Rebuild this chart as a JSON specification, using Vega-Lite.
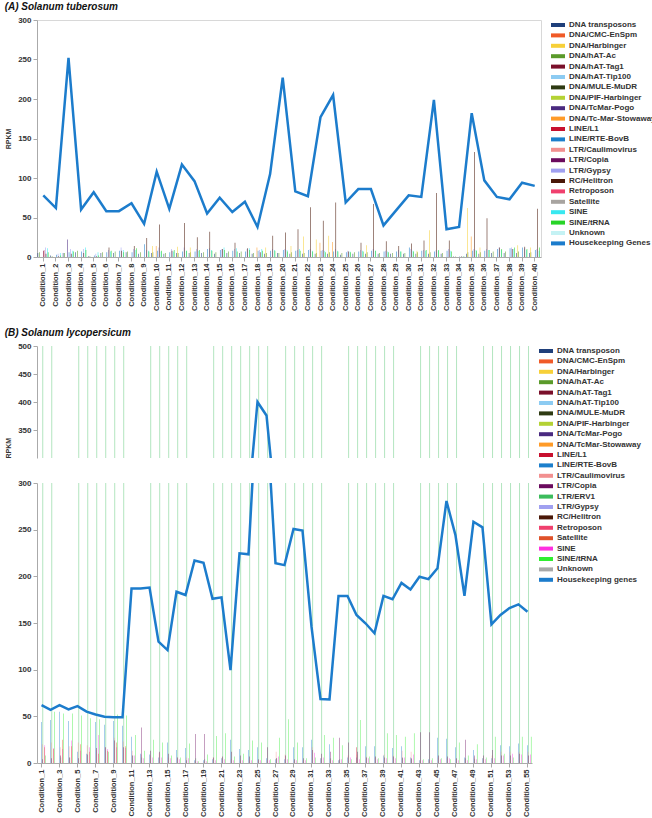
{
"$schema":"https://vega.github.io/schema/vega-lite/v6.json",
"padding":{"left":4,"top":1,"right":0,"bottom":0},
"config":{"font":"Liberation Sans","axis":{"labelFont":"Liberation Sans","labelFontWeight":"bold","labelFontSize":8,"labelColor":"#333","labelOverlap":false,"titleFont":"Liberation Sans","titleFontSize":7,"titleFontWeight":"bold","titleColor":"#333","domainColor":"#aaa","tickColor":"#aaa","tickSize":4,"grid":false},"axisX":{"labelFontSize":7.5},"view":{"stroke":null},"title":{"font":"Liberation Sans","fontSize":10,"fontWeight":"bold","fontStyle":"italic","color":"#111","anchor":"start","frame":"bounds"}},
"datasets":{
"hkA":[{"c":1,"v":78},{"c":2,"v":62},{"c":3,"v":252},{"c":4,"v":60},{"c":5,"v":82},{"c":6,"v":58},{"c":7,"v":58},{"c":8,"v":68},{"c":9,"v":42},{"c":10,"v":108},{"c":11,"v":61},{"c":12,"v":117},{"c":13,"v":96},{"c":14,"v":55},{"c":15,"v":75},{"c":16,"v":57},{"c":17,"v":70},{"c":18,"v":38},{"c":19,"v":105},{"c":20,"v":227},{"c":21,"v":83},{"c":22,"v":77},{"c":23,"v":177},{"c":24,"v":205},{"c":25,"v":69},{"c":26,"v":86},{"c":27,"v":86},{"c":28,"v":40},{"c":29,"v":59},{"c":30,"v":78},{"c":31,"v":76},{"c":32,"v":199},{"c":33,"v":35},{"c":34,"v":38},{"c":35,"v":182},{"c":36,"v":97},{"c":37,"v":76},{"c":38,"v":73},{"c":39,"v":94},{"c":40,"v":90}],
"hkB":[{"c":1,"v":62},{"c":2,"v":57},{"c":3,"v":62},{"c":4,"v":57.5},{"c":5,"v":61},{"c":6,"v":55},{"c":7,"v":52},{"c":8,"v":49.6},{"c":9,"v":49},{"c":10,"v":49},{"c":11,"v":187},{"c":12,"v":187},{"c":13,"v":188},{"c":14,"v":130},{"c":15,"v":121},{"c":16,"v":183.5},{"c":17,"v":180},{"c":18,"v":217},{"c":19,"v":214.5},{"c":20,"v":176},{"c":21,"v":177.5},{"c":22,"v":99.6},{"c":23,"v":224.7},{"c":24,"v":223.6},{"c":25,"v":400},{"c":26,"v":376},{"c":27,"v":214},{"c":28,"v":212},{"c":29,"v":250.7},{"c":30,"v":249},{"c":31,"v":146},{"c":32,"v":68.6},{"c":33,"v":68},{"c":34,"v":179},{"c":35,"v":179},{"c":36,"v":158.6},{"c":37,"v":149.7},{"c":38,"v":139},{"c":39,"v":179},{"c":40,"v":175.4},{"c":41,"v":193},{"c":42,"v":186},{"c":43,"v":199.6},{"c":44,"v":197},{"c":45,"v":208.6},{"c":46,"v":280.7},{"c":47,"v":244},{"c":48,"v":179},{"c":49,"v":258.5},{"c":50,"v":252.5},{"c":51,"v":148.6},{"c":52,"v":158.6},{"c":53,"v":166},{"c":54,"v":170},{"c":55,"v":162}],
"teA":[
{"c":1,"t":"DNA transposons","v":5},{"c":1,"t":"DNA/hAT-Ac","v":6},{"c":1,"t":"LINE/RTE-BovB","v":8},{"c":1,"t":"LTR/Gypsy","v":12},{"c":1,"t":"RC/Helitron","v":4},{"c":1,"t":"SINE","v":11},{"c":1,"t":"SINE/tRNA","v":6},{"c":1,"t":"LTR/Caulimovirus","v":9},{"c":1,"t":"LINE/L1","v":8},
{"c":2,"t":"DNA transposons","v":2},{"c":2,"t":"DNA/hAT-Ac","v":1},{"c":2,"t":"LINE/RTE-BovB","v":3},{"c":2,"t":"LTR/Gypsy","v":4},{"c":2,"t":"RC/Helitron","v":1},{"c":2,"t":"SINE","v":5},{"c":2,"t":"SINE/tRNA","v":2},
{"c":3,"t":"DNA transposons","v":5},{"c":3,"t":"DNA/hAT-Ac","v":5},{"c":3,"t":"LINE/RTE-BovB","v":6},{"c":3,"t":"LTR/Gypsy","v":10},{"c":3,"t":"RC/Helitron","v":4},{"c":3,"t":"SINE","v":8},{"c":3,"t":"SINE/tRNA","v":7},{"c":3,"t":"DNA/TcMar-Pogo","v":22},
{"c":4,"t":"DNA transposons","v":6},{"c":4,"t":"DNA/hAT-Ac","v":8},{"c":4,"t":"LINE/RTE-BovB","v":7},{"c":4,"t":"LTR/Gypsy","v":10},{"c":4,"t":"RC/Helitron","v":5},{"c":4,"t":"SINE","v":12},{"c":4,"t":"SINE/tRNA","v":9},
{"c":5,"t":"DNA transposons","v":1},{"c":5,"t":"DNA/hAT-Ac","v":1},{"c":5,"t":"LINE/RTE-BovB","v":2},{"c":5,"t":"LTR/Gypsy","v":4},{"c":5,"t":"RC/Helitron","v":1},{"c":5,"t":"SINE","v":6},{"c":5,"t":"SINE/tRNA","v":2},
{"c":6,"t":"DNA transposons","v":5},{"c":6,"t":"DNA/hAT-Ac","v":6},{"c":6,"t":"LINE/RTE-BovB","v":6},{"c":6,"t":"LTR/Gypsy","v":9},{"c":6,"t":"RC/Helitron","v":12},{"c":6,"t":"SINE","v":7},{"c":6,"t":"SINE/tRNA","v":8},
{"c":7,"t":"DNA transposons","v":5},{"c":7,"t":"DNA/hAT-Ac","v":7},{"c":7,"t":"LINE/RTE-BovB","v":8},{"c":7,"t":"LTR/Gypsy","v":12},{"c":7,"t":"RC/Helitron","v":8},{"c":7,"t":"SINE","v":9},{"c":7,"t":"SINE/tRNA","v":6},
{"c":8,"t":"DNA transposons","v":6},{"c":8,"t":"DNA/hAT-Ac","v":7},{"c":8,"t":"LINE/RTE-BovB","v":6},{"c":8,"t":"LTR/Gypsy","v":10},{"c":8,"t":"RC/Helitron","v":14},{"c":8,"t":"SINE","v":9},{"c":8,"t":"SINE/tRNA","v":11},
{"c":9,"t":"DNA transposons","v":4},{"c":9,"t":"DNA/hAT-Ac","v":6},{"c":9,"t":"LINE/RTE-BovB","v":16},{"c":9,"t":"LTR/Gypsy","v":9},{"c":9,"t":"RC/Helitron","v":24},{"c":9,"t":"SINE","v":8},{"c":9,"t":"SINE/tRNA","v":7},
{"c":10,"t":"DNA transposons","v":5},{"c":10,"t":"DNA/hAT-Ac","v":6},{"c":10,"t":"LINE/RTE-BovB","v":8},{"c":10,"t":"LTR/Gypsy","v":12},{"c":10,"t":"RC/Helitron","v":41},{"c":10,"t":"SINE","v":7},{"c":10,"t":"SINE/tRNA","v":8},{"c":10,"t":"DNA/Tc-Mar-Stowaway","v":14},{"c":10,"t":"DNA/Harbinger","v":14},
{"c":11,"t":"DNA transposons","v":4},{"c":11,"t":"DNA/hAT-Ac","v":5},{"c":11,"t":"LINE/RTE-BovB","v":6},{"c":11,"t":"LTR/Gypsy","v":10},{"c":11,"t":"RC/Helitron","v":8},{"c":11,"t":"SINE","v":7},{"c":11,"t":"SINE/tRNA","v":9},
{"c":12,"t":"DNA transposons","v":5},{"c":12,"t":"DNA/hAT-Ac","v":5},{"c":12,"t":"LINE/RTE-BovB","v":7},{"c":12,"t":"LTR/Gypsy","v":12},{"c":12,"t":"RC/Helitron","v":43},{"c":12,"t":"SINE","v":8},{"c":12,"t":"SINE/tRNA","v":8},{"c":12,"t":"DNA/Harbinger","v":13},
{"c":13,"t":"DNA transposons","v":5},{"c":13,"t":"DNA/hAT-Ac","v":6},{"c":13,"t":"LINE/RTE-BovB","v":7},{"c":13,"t":"LTR/Gypsy","v":10},{"c":13,"t":"RC/Helitron","v":25},{"c":13,"t":"SINE","v":8},{"c":13,"t":"SINE/tRNA","v":9},{"c":13,"t":"DNA/Harbinger","v":12},
{"c":14,"t":"DNA transposons","v":5},{"c":14,"t":"DNA/hAT-Ac","v":6},{"c":14,"t":"LINE/RTE-BovB","v":10},{"c":14,"t":"LTR/Gypsy","v":11},{"c":14,"t":"RC/Helitron","v":32},{"c":14,"t":"SINE","v":9},{"c":14,"t":"SINE/tRNA","v":8},
{"c":15,"t":"DNA transposons","v":4},{"c":15,"t":"DNA/hAT-Ac","v":6},{"c":15,"t":"LINE/RTE-BovB","v":9},{"c":15,"t":"LTR/Gypsy","v":10},{"c":15,"t":"RC/Helitron","v":10},{"c":15,"t":"SINE","v":12},{"c":15,"t":"SINE/tRNA","v":9},
{"c":16,"t":"DNA transposons","v":5},{"c":16,"t":"DNA/hAT-Ac","v":7},{"c":16,"t":"LINE/RTE-BovB","v":8},{"c":16,"t":"LTR/Gypsy","v":10},{"c":16,"t":"RC/Helitron","v":18},{"c":16,"t":"SINE","v":11},{"c":16,"t":"SINE/tRNA","v":7},
{"c":17,"t":"DNA transposons","v":5},{"c":17,"t":"DNA/hAT-Ac","v":7},{"c":17,"t":"LINE/RTE-BovB","v":7},{"c":17,"t":"LTR/Gypsy","v":10},{"c":17,"t":"RC/Helitron","v":11},{"c":17,"t":"SINE","v":11},{"c":17,"t":"SINE/tRNA","v":9},
{"c":18,"t":"DNA transposons","v":4},{"c":18,"t":"DNA/hAT-Ac","v":5},{"c":18,"t":"LINE/RTE-BovB","v":8},{"c":18,"t":"LTR/Gypsy","v":9},{"c":18,"t":"RC/Helitron","v":6},{"c":18,"t":"SINE","v":10},{"c":18,"t":"SINE/tRNA","v":8},{"c":18,"t":"DNA/Tc-Mar-Stowaway","v":12},
{"c":19,"t":"DNA transposons","v":4},{"c":19,"t":"DNA/hAT-Ac","v":5},{"c":19,"t":"LINE/RTE-BovB","v":8},{"c":19,"t":"LTR/Gypsy","v":10},{"c":19,"t":"RC/Helitron","v":27},{"c":19,"t":"SINE","v":9},{"c":19,"t":"SINE/tRNA","v":8},{"c":19,"t":"DNA/Harbinger","v":12},
{"c":20,"t":"DNA transposons","v":5},{"c":20,"t":"DNA/hAT-Ac","v":5},{"c":20,"t":"LINE/RTE-BovB","v":9},{"c":20,"t":"LTR/Gypsy","v":10},{"c":20,"t":"RC/Helitron","v":31},{"c":20,"t":"SINE","v":9},{"c":20,"t":"SINE/tRNA","v":7},
{"c":21,"t":"DNA transposons","v":4},{"c":21,"t":"DNA/hAT-Ac","v":6},{"c":21,"t":"LINE/RTE-BovB","v":8},{"c":21,"t":"LTR/Gypsy","v":9},{"c":21,"t":"RC/Helitron","v":35},{"c":21,"t":"SINE","v":10},{"c":21,"t":"SINE/tRNA","v":8},{"c":21,"t":"DNA/Harbinger","v":14},
{"c":22,"t":"DNA transposons","v":4},{"c":22,"t":"DNA/hAT-Ac","v":5},{"c":22,"t":"LINE/RTE-BovB","v":9},{"c":22,"t":"LTR/Gypsy","v":10},{"c":22,"t":"RC/Helitron","v":63},{"c":22,"t":"SINE","v":8},{"c":22,"t":"SINE/tRNA","v":7},{"c":22,"t":"DNA/Harbinger","v":26},
{"c":23,"t":"DNA transposons","v":4},{"c":23,"t":"DNA/hAT-Ac","v":5},{"c":23,"t":"LINE/RTE-BovB","v":8},{"c":23,"t":"LTR/Gypsy","v":9},{"c":23,"t":"RC/Helitron","v":46},{"c":23,"t":"SINE","v":8},{"c":23,"t":"SINE/tRNA","v":6},{"c":23,"t":"DNA/Harbinger","v":22},{"c":23,"t":"DNA/Tc-Mar-Stowaway","v":18},
{"c":24,"t":"DNA transposons","v":4},{"c":24,"t":"DNA/hAT-Ac","v":6},{"c":24,"t":"LINE/RTE-BovB","v":7},{"c":24,"t":"LTR/Gypsy","v":10},{"c":24,"t":"RC/Helitron","v":69},{"c":24,"t":"SINE","v":8},{"c":24,"t":"SINE/tRNA","v":7},{"c":24,"t":"DNA/Harbinger","v":27},{"c":24,"t":"DNA/Tc-Mar-Stowaway","v":19},
{"c":25,"t":"DNA transposons","v":3},{"c":25,"t":"DNA/hAT-Ac","v":5},{"c":25,"t":"LINE/RTE-BovB","v":6},{"c":25,"t":"LTR/Gypsy","v":8},{"c":25,"t":"RC/Helitron","v":7},{"c":25,"t":"SINE","v":7},{"c":25,"t":"SINE/tRNA","v":6},
{"c":26,"t":"DNA transposons","v":4},{"c":26,"t":"DNA/hAT-Ac","v":6},{"c":26,"t":"LINE/RTE-BovB","v":7},{"c":26,"t":"LTR/Gypsy","v":9},{"c":26,"t":"RC/Helitron","v":18},{"c":26,"t":"SINE","v":8},{"c":26,"t":"SINE/tRNA","v":7},
{"c":27,"t":"DNA transposons","v":4},{"c":27,"t":"DNA/hAT-Ac","v":6},{"c":27,"t":"LINE/RTE-BovB","v":8},{"c":27,"t":"LTR/Gypsy","v":10},{"c":27,"t":"RC/Helitron","v":67},{"c":27,"t":"SINE","v":8},{"c":27,"t":"SINE/tRNA","v":8},{"c":27,"t":"DNA/Harbinger","v":15},
{"c":28,"t":"DNA transposons","v":4},{"c":28,"t":"DNA/hAT-Ac","v":5},{"c":28,"t":"LINE/RTE-BovB","v":7},{"c":28,"t":"LTR/Gypsy","v":8},{"c":28,"t":"RC/Helitron","v":20},{"c":28,"t":"SINE","v":7},{"c":28,"t":"SINE/tRNA","v":6},
{"c":29,"t":"DNA transposons","v":4},{"c":29,"t":"DNA/hAT-Ac","v":5},{"c":29,"t":"LINE/RTE-BovB","v":7},{"c":29,"t":"LTR/Gypsy","v":9},{"c":29,"t":"RC/Helitron","v":14},{"c":29,"t":"SINE","v":7},{"c":29,"t":"SINE/tRNA","v":7},
{"c":30,"t":"DNA transposons","v":4},{"c":30,"t":"DNA/hAT-Ac","v":5},{"c":30,"t":"LINE/RTE-BovB","v":12},{"c":30,"t":"LTR/Gypsy","v":10},{"c":30,"t":"RC/Helitron","v":17},{"c":30,"t":"SINE","v":8},{"c":30,"t":"SINE/tRNA","v":7},
{"c":31,"t":"DNA transposons","v":4},{"c":31,"t":"DNA/hAT-Ac","v":6},{"c":31,"t":"LINE/RTE-BovB","v":8},{"c":31,"t":"LTR/Gypsy","v":9},{"c":31,"t":"RC/Helitron","v":21},{"c":31,"t":"SINE","v":8},{"c":31,"t":"SINE/tRNA","v":9},{"c":31,"t":"DNA/Harbinger","v":8},
{"c":32,"t":"DNA transposons","v":4},{"c":32,"t":"DNA/hAT-Ac","v":6},{"c":32,"t":"LINE/RTE-BovB","v":7},{"c":32,"t":"LTR/Gypsy","v":9},{"c":32,"t":"RC/Helitron","v":81},{"c":32,"t":"SINE","v":8},{"c":32,"t":"SINE/tRNA","v":9},{"c":32,"t":"DNA/Harbinger","v":34},
{"c":33,"t":"DNA transposons","v":4},{"c":33,"t":"DNA/hAT-Ac","v":5},{"c":33,"t":"LINE/RTE-BovB","v":8},{"c":33,"t":"LTR/Gypsy","v":10},{"c":33,"t":"RC/Helitron","v":21},{"c":33,"t":"SINE","v":8},{"c":33,"t":"SINE/tRNA","v":7},
{"c":34,"t":"DNA transposons","v":0.5},{"c":34,"t":"DNA/hAT-Ac","v":0.5},{"c":34,"t":"LINE/RTE-BovB","v":0.5},{"c":34,"t":"LTR/Gypsy","v":0.5},{"c":34,"t":"RC/Helitron","v":0.5},{"c":34,"t":"SINE","v":0.5},{"c":34,"t":"SINE/tRNA","v":0.5},
{"c":35,"t":"DNA transposons","v":4},{"c":35,"t":"DNA/hAT-Ac","v":6},{"c":35,"t":"LINE/RTE-BovB","v":8},{"c":35,"t":"LTR/Gypsy","v":10},{"c":35,"t":"RC/Helitron","v":133},{"c":35,"t":"SINE","v":9},{"c":35,"t":"SINE/tRNA","v":8},{"c":35,"t":"DNA/Harbinger","v":62},{"c":35,"t":"DNA/Tc-Mar-Stowaway","v":26},
{"c":36,"t":"DNA transposons","v":4},{"c":36,"t":"DNA/hAT-Ac","v":6},{"c":36,"t":"LINE/RTE-BovB","v":8},{"c":36,"t":"LTR/Gypsy","v":10},{"c":36,"t":"RC/Helitron","v":49},{"c":36,"t":"SINE","v":9},{"c":36,"t":"SINE/tRNA","v":9},{"c":36,"t":"DNA/Harbinger","v":12},
{"c":37,"t":"DNA transposons","v":5},{"c":37,"t":"DNA/hAT-Ac","v":7},{"c":37,"t":"LINE/RTE-BovB","v":10},{"c":37,"t":"LTR/Gypsy","v":12},{"c":37,"t":"RC/Helitron","v":12},{"c":37,"t":"SINE","v":9},{"c":37,"t":"SINE/tRNA","v":10},
{"c":38,"t":"DNA transposons","v":5},{"c":38,"t":"DNA/hAT-Ac","v":7},{"c":38,"t":"LINE/RTE-BovB","v":11},{"c":38,"t":"LTR/Gypsy","v":12},{"c":38,"t":"RC/Helitron","v":10},{"c":38,"t":"SINE","v":10},{"c":38,"t":"SINE/tRNA","v":12},
{"c":39,"t":"DNA transposons","v":5},{"c":39,"t":"DNA/hAT-Ac","v":7},{"c":39,"t":"LINE/RTE-BovB","v":12},{"c":39,"t":"LTR/Gypsy","v":11},{"c":39,"t":"RC/Helitron","v":13},{"c":39,"t":"SINE","v":9},{"c":39,"t":"SINE/tRNA","v":10},{"c":39,"t":"DNA/Harbinger","v":15},
{"c":40,"t":"DNA transposons","v":5},{"c":40,"t":"DNA/hAT-Ac","v":6},{"c":40,"t":"LINE/RTE-BovB","v":9},{"c":40,"t":"LTR/Gypsy","v":10},{"c":40,"t":"RC/Helitron","v":61},{"c":40,"t":"SINE","v":8},{"c":40,"t":"SINE/tRNA","v":12},{"c":40,"t":"DNA/Harbinger","v":12}
],
"teB":[
{"c":1,"t":"LTR/ERV1","v":600},{"c":1,"t":"LINE/RTE-BovB","v":44},{"c":1,"t":"SINE/tRNA","v":8},{"c":1,"t":"LTR/Caulimovirus","v":20},{"c":1,"t":"SINE","v":19},{"c":1,"t":"LTR/Copia","v":4},{"c":1,"t":"Satellite","v":17},
{"c":2,"t":"LTR/ERV1","v":600},{"c":2,"t":"LINE/RTE-BovB","v":46},{"c":2,"t":"SINE/tRNA","v":55},{"c":2,"t":"LTR/Caulimovirus","v":22},{"c":2,"t":"SINE","v":16},{"c":2,"t":"LTR/Copia","v":5},{"c":2,"t":"Satellite","v":15},
{"c":3,"t":"LTR/ERV1","v":6},{"c":3,"t":"LINE/RTE-BovB","v":55},{"c":3,"t":"SINE/tRNA","v":53},{"c":3,"t":"LTR/Caulimovirus","v":17},{"c":3,"t":"SINE","v":15},{"c":3,"t":"LTR/Copia","v":8},{"c":3,"t":"Satellite","v":25},
{"c":4,"t":"LTR/ERV1","v":6},{"c":4,"t":"LINE/RTE-BovB","v":45},{"c":4,"t":"SINE/tRNA","v":53},{"c":4,"t":"LTR/Caulimovirus","v":18},{"c":4,"t":"SINE","v":24},{"c":4,"t":"LTR/Copia","v":6},{"c":4,"t":"Satellite","v":18},
{"c":5,"t":"LTR/ERV1","v":600},{"c":5,"t":"LINE/RTE-BovB","v":12},{"c":5,"t":"SINE/tRNA","v":51},{"c":5,"t":"LTR/Caulimovirus","v":22},{"c":5,"t":"SINE","v":13},{"c":5,"t":"LTR/Copia","v":5},{"c":5,"t":"Satellite","v":20},
{"c":6,"t":"LTR/ERV1","v":600},{"c":6,"t":"LINE/RTE-BovB","v":10},{"c":6,"t":"SINE/tRNA","v":48},{"c":6,"t":"LTR/Caulimovirus","v":19},{"c":6,"t":"SINE","v":17},{"c":6,"t":"LTR/Copia","v":9},{"c":6,"t":"Satellite","v":12},
{"c":7,"t":"LTR/ERV1","v":600},{"c":7,"t":"LINE/RTE-BovB","v":44},{"c":7,"t":"SINE/tRNA","v":47},{"c":7,"t":"LTR/Caulimovirus","v":14},{"c":7,"t":"SINE","v":30},{"c":7,"t":"LTR/Copia","v":16},{"c":7,"t":"Satellite","v":10},
{"c":8,"t":"LTR/ERV1","v":600},{"c":8,"t":"LINE/RTE-BovB","v":41},{"c":8,"t":"SINE/tRNA","v":12},{"c":8,"t":"LTR/Caulimovirus","v":17},{"c":8,"t":"SINE","v":15},{"c":8,"t":"LTR/Copia","v":17},{"c":8,"t":"Satellite","v":13},
{"c":9,"t":"LTR/ERV1","v":600},{"c":9,"t":"LINE/RTE-BovB","v":45},{"c":9,"t":"SINE/tRNA","v":52},{"c":9,"t":"LTR/Caulimovirus","v":27},{"c":9,"t":"SINE","v":17},{"c":9,"t":"LTR/Copia","v":24},{"c":9,"t":"Satellite","v":22},
{"c":10,"t":"LTR/ERV1","v":600},{"c":10,"t":"LINE/RTE-BovB","v":40},{"c":10,"t":"SINE/tRNA","v":51},{"c":10,"t":"LTR/Caulimovirus","v":23},{"c":10,"t":"SINE","v":16},{"c":10,"t":"LTR/Copia","v":17},{"c":10,"t":"Satellite","v":18},
{"c":11,"t":"LTR/ERV1","v":8},{"c":11,"t":"LINE/RTE-BovB","v":28},{"c":11,"t":"SINE/tRNA","v":30},{"c":11,"t":"LTR/Caulimovirus","v":13},{"c":11,"t":"SINE","v":8},{"c":11,"t":"LTR/Copia","v":8},
{"c":12,"t":"LTR/ERV1","v":6},{"c":12,"t":"LINE/RTE-BovB","v":10},{"c":12,"t":"SINE/tRNA","v":13},{"c":12,"t":"LTR/Caulimovirus","v":9},{"c":12,"t":"SINE","v":5},{"c":12,"t":"LTR/Copia","v":38},
{"c":13,"t":"LTR/ERV1","v":600},{"c":13,"t":"LINE/RTE-BovB","v":9},{"c":13,"t":"SINE/tRNA","v":25},{"c":13,"t":"LTR/Caulimovirus","v":8},{"c":13,"t":"SINE","v":6},{"c":13,"t":"LTR/Copia","v":13},
{"c":14,"t":"LTR/ERV1","v":600},{"c":14,"t":"LINE/RTE-BovB","v":6},{"c":14,"t":"SINE/tRNA","v":22},{"c":14,"t":"LTR/Caulimovirus","v":11},{"c":14,"t":"SINE","v":6},{"c":14,"t":"LTR/Copia","v":12},
{"c":15,"t":"LTR/ERV1","v":600},{"c":15,"t":"LINE/RTE-BovB","v":22},{"c":15,"t":"SINE/tRNA","v":8},{"c":15,"t":"LTR/Caulimovirus","v":6},{"c":15,"t":"SINE","v":5},{"c":15,"t":"LTR/Copia","v":10},
{"c":16,"t":"LTR/ERV1","v":600},{"c":16,"t":"LINE/RTE-BovB","v":14},{"c":16,"t":"SINE/tRNA","v":6},{"c":16,"t":"LTR/Caulimovirus","v":6},{"c":16,"t":"SINE","v":4},{"c":16,"t":"LTR/Copia","v":6},
{"c":17,"t":"LTR/ERV1","v":600},{"c":17,"t":"LINE/RTE-BovB","v":16},{"c":17,"t":"SINE/tRNA","v":21},{"c":17,"t":"LTR/Caulimovirus","v":6},{"c":17,"t":"SINE","v":5},{"c":17,"t":"LTR/Copia","v":3},
{"c":18,"t":"LTR/ERV1","v":5},{"c":18,"t":"LINE/RTE-BovB","v":3},{"c":18,"t":"SINE/tRNA","v":2},{"c":18,"t":"LTR/Caulimovirus","v":2},{"c":18,"t":"SINE","v":2},{"c":18,"t":"LTR/Copia","v":31},
{"c":19,"t":"LTR/ERV1","v":4},{"c":19,"t":"LINE/RTE-BovB","v":3},{"c":19,"t":"SINE/tRNA","v":9},{"c":19,"t":"LTR/Caulimovirus","v":2},{"c":19,"t":"SINE","v":2},{"c":19,"t":"LTR/Copia","v":31},
{"c":20,"t":"LTR/ERV1","v":600},{"c":20,"t":"LINE/RTE-BovB","v":4},{"c":20,"t":"SINE/tRNA","v":29},{"c":20,"t":"LTR/Caulimovirus","v":6},{"c":20,"t":"SINE","v":3},{"c":20,"t":"LTR/Copia","v":6},
{"c":21,"t":"LTR/ERV1","v":600},{"c":21,"t":"LINE/RTE-BovB","v":5},{"c":21,"t":"SINE/tRNA","v":32},{"c":21,"t":"LTR/Caulimovirus","v":6},{"c":21,"t":"SINE","v":4},{"c":21,"t":"LTR/Copia","v":7},
{"c":22,"t":"LTR/ERV1","v":600},{"c":22,"t":"LINE/RTE-BovB","v":25},{"c":22,"t":"SINE/tRNA","v":7},{"c":22,"t":"LTR/Caulimovirus","v":4},{"c":22,"t":"SINE","v":3},{"c":22,"t":"LTR/Copia","v":12},
{"c":23,"t":"LTR/ERV1","v":600},{"c":23,"t":"LINE/RTE-BovB","v":15},{"c":23,"t":"SINE/tRNA","v":10},{"c":23,"t":"LTR/Caulimovirus","v":3},{"c":23,"t":"SINE","v":3},{"c":23,"t":"LTR/Copia","v":8},
{"c":24,"t":"LTR/ERV1","v":600},{"c":24,"t":"LINE/RTE-BovB","v":14},{"c":24,"t":"SINE/tRNA","v":24},{"c":24,"t":"LTR/Caulimovirus","v":3},{"c":24,"t":"SINE","v":3},{"c":24,"t":"LTR/Copia","v":7},
{"c":25,"t":"LTR/ERV1","v":600},{"c":25,"t":"LINE/RTE-BovB","v":17},{"c":25,"t":"SINE/tRNA","v":22},{"c":25,"t":"LTR/Caulimovirus","v":3},{"c":25,"t":"SINE","v":3},{"c":25,"t":"LTR/Copia","v":4},
{"c":26,"t":"LTR/ERV1","v":600},{"c":26,"t":"LINE/RTE-BovB","v":5},{"c":26,"t":"SINE/tRNA","v":4},{"c":26,"t":"LTR/Caulimovirus","v":3},{"c":26,"t":"SINE","v":3},{"c":26,"t":"LTR/Copia","v":17},
{"c":27,"t":"LTR/ERV1","v":5},{"c":27,"t":"LINE/RTE-BovB","v":4},{"c":27,"t":"SINE/tRNA","v":27},{"c":27,"t":"LTR/Caulimovirus","v":12},{"c":27,"t":"SINE","v":7},{"c":27,"t":"LTR/Copia","v":5},
{"c":28,"t":"LTR/ERV1","v":600},{"c":28,"t":"LINE/RTE-BovB","v":4},{"c":28,"t":"SINE/tRNA","v":47},{"c":28,"t":"LTR/Caulimovirus","v":9},{"c":28,"t":"SINE","v":4},{"c":28,"t":"LTR/Copia","v":8},
{"c":29,"t":"LTR/ERV1","v":600},{"c":29,"t":"LINE/RTE-BovB","v":17},{"c":29,"t":"SINE/tRNA","v":22},{"c":29,"t":"LTR/Caulimovirus","v":3},{"c":29,"t":"SINE","v":3},{"c":29,"t":"LTR/Copia","v":4},
{"c":30,"t":"LTR/ERV1","v":600},{"c":30,"t":"LINE/RTE-BovB","v":17},{"c":30,"t":"SINE/tRNA","v":5},{"c":30,"t":"LTR/Caulimovirus","v":3},{"c":30,"t":"SINE","v":3},{"c":30,"t":"LTR/Copia","v":5},
{"c":31,"t":"LTR/ERV1","v":600},{"c":31,"t":"LINE/RTE-BovB","v":25},{"c":31,"t":"SINE/tRNA","v":6},{"c":31,"t":"LTR/Caulimovirus","v":17},{"c":31,"t":"SINE","v":11},{"c":31,"t":"LTR/Copia","v":14},
{"c":32,"t":"LTR/ERV1","v":600},{"c":32,"t":"LINE/RTE-BovB","v":5},{"c":32,"t":"SINE/tRNA","v":30},{"c":32,"t":"LTR/Caulimovirus","v":5},{"c":32,"t":"SINE","v":6},{"c":32,"t":"LTR/Copia","v":10},
{"c":33,"t":"LTR/ERV1","v":5},{"c":33,"t":"LINE/RTE-BovB","v":20},{"c":33,"t":"SINE/tRNA","v":27},{"c":33,"t":"LTR/Caulimovirus","v":4},{"c":33,"t":"SINE","v":3},{"c":33,"t":"LTR/Copia","v":12},
{"c":34,"t":"LTR/ERV1","v":4},{"c":34,"t":"LINE/RTE-BovB","v":3},{"c":34,"t":"SINE/tRNA","v":19},{"c":34,"t":"LTR/Caulimovirus","v":3},{"c":34,"t":"SINE","v":4},{"c":34,"t":"LTR/Copia","v":27},
{"c":35,"t":"LTR/ERV1","v":600},{"c":35,"t":"LINE/RTE-BovB","v":6},{"c":35,"t":"SINE/tRNA","v":4},{"c":35,"t":"LTR/Caulimovirus","v":8},{"c":35,"t":"SINE","v":6},{"c":35,"t":"LTR/Copia","v":22},
{"c":36,"t":"LTR/ERV1","v":600},{"c":36,"t":"LINE/RTE-BovB","v":6},{"c":36,"t":"SINE/tRNA","v":46},{"c":36,"t":"LTR/Caulimovirus","v":9},{"c":36,"t":"SINE","v":4},{"c":36,"t":"LTR/Copia","v":12},{"c":36,"t":"LINE/L1","v":17},
{"c":37,"t":"LTR/ERV1","v":600},{"c":37,"t":"LINE/RTE-BovB","v":18},{"c":37,"t":"SINE/tRNA","v":7},{"c":37,"t":"LTR/Caulimovirus","v":7},{"c":37,"t":"SINE","v":5},{"c":37,"t":"LTR/Copia","v":6},
{"c":38,"t":"LTR/ERV1","v":600},{"c":38,"t":"LINE/RTE-BovB","v":18},{"c":38,"t":"SINE/tRNA","v":5},{"c":38,"t":"LTR/Caulimovirus","v":6},{"c":38,"t":"SINE","v":4},{"c":38,"t":"LTR/Copia","v":7},
{"c":39,"t":"LTR/ERV1","v":600},{"c":39,"t":"LINE/RTE-BovB","v":8},{"c":39,"t":"SINE/tRNA","v":32},{"c":39,"t":"LTR/Caulimovirus","v":9},{"c":39,"t":"SINE","v":5},{"c":39,"t":"LTR/Copia","v":6},
{"c":40,"t":"LTR/ERV1","v":600},{"c":40,"t":"LINE/RTE-BovB","v":16},{"c":40,"t":"SINE/tRNA","v":30},{"c":40,"t":"LTR/Caulimovirus","v":8},{"c":40,"t":"SINE","v":5},{"c":40,"t":"LTR/Copia","v":7},
{"c":41,"t":"LTR/ERV1","v":5},{"c":41,"t":"LINE/RTE-BovB","v":18},{"c":41,"t":"SINE/tRNA","v":28},{"c":41,"t":"LTR/Caulimovirus","v":13},{"c":41,"t":"SINE","v":6},{"c":41,"t":"LTR/Copia","v":6},
{"c":42,"t":"LTR/ERV1","v":4},{"c":42,"t":"LINE/RTE-BovB","v":6},{"c":42,"t":"SINE/tRNA","v":32},{"c":42,"t":"LTR/Caulimovirus","v":12},{"c":42,"t":"SINE","v":9},{"c":42,"t":"LTR/Copia","v":5},
{"c":43,"t":"LTR/ERV1","v":600},{"c":43,"t":"LINE/RTE-BovB","v":3},{"c":43,"t":"SINE/tRNA","v":4},{"c":43,"t":"LTR/Caulimovirus","v":3},{"c":43,"t":"SINE","v":3},{"c":43,"t":"LTR/Copia","v":33},
{"c":44,"t":"LTR/ERV1","v":600},{"c":44,"t":"LINE/RTE-BovB","v":4},{"c":44,"t":"SINE/tRNA","v":5},{"c":44,"t":"LTR/Caulimovirus","v":3},{"c":44,"t":"SINE","v":3},{"c":44,"t":"LTR/Copia","v":33},
{"c":45,"t":"LTR/ERV1","v":600},{"c":45,"t":"LINE/RTE-BovB","v":27},{"c":45,"t":"SINE/tRNA","v":5},{"c":45,"t":"LTR/Caulimovirus","v":6},{"c":45,"t":"SINE","v":4},{"c":45,"t":"LTR/Copia","v":8},
{"c":46,"t":"LTR/ERV1","v":600},{"c":46,"t":"LINE/RTE-BovB","v":26},{"c":46,"t":"SINE/tRNA","v":4},{"c":46,"t":"LTR/Caulimovirus","v":5},{"c":46,"t":"SINE","v":5},{"c":46,"t":"LTR/Copia","v":7},
{"c":47,"t":"LTR/ERV1","v":600},{"c":47,"t":"LINE/RTE-BovB","v":17},{"c":47,"t":"SINE/tRNA","v":22},{"c":47,"t":"LTR/Caulimovirus","v":4},{"c":47,"t":"SINE","v":3},{"c":47,"t":"LTR/Copia","v":5},
{"c":48,"t":"LTR/ERV1","v":5},{"c":48,"t":"LINE/RTE-BovB","v":6},{"c":48,"t":"SINE/tRNA","v":8},{"c":48,"t":"LTR/Caulimovirus","v":4},{"c":48,"t":"SINE","v":3},{"c":48,"t":"LTR/Copia","v":25},
{"c":49,"t":"LTR/ERV1","v":4},{"c":49,"t":"LINE/RTE-BovB","v":14},{"c":49,"t":"SINE/tRNA","v":20},{"c":49,"t":"LTR/Caulimovirus","v":6},{"c":49,"t":"SINE","v":4},{"c":49,"t":"LTR/Copia","v":8},
{"c":50,"t":"LTR/ERV1","v":600},{"c":50,"t":"LINE/RTE-BovB","v":5},{"c":50,"t":"SINE/tRNA","v":6},{"c":50,"t":"LTR/Caulimovirus","v":5},{"c":50,"t":"SINE","v":4},{"c":50,"t":"LTR/Copia","v":8},
{"c":51,"t":"LTR/ERV1","v":600},{"c":51,"t":"LINE/RTE-BovB","v":5},{"c":51,"t":"SINE/tRNA","v":28},{"c":51,"t":"LTR/Caulimovirus","v":8},{"c":51,"t":"SINE","v":5},{"c":51,"t":"LTR/Copia","v":14},
{"c":52,"t":"LTR/ERV1","v":600},{"c":52,"t":"LINE/RTE-BovB","v":19},{"c":52,"t":"SINE/tRNA","v":10},{"c":52,"t":"LTR/Caulimovirus","v":12},{"c":52,"t":"SINE","v":8},{"c":52,"t":"LTR/Copia","v":8},
{"c":53,"t":"LTR/ERV1","v":600},{"c":53,"t":"LINE/RTE-BovB","v":18},{"c":53,"t":"SINE/tRNA","v":6},{"c":53,"t":"LTR/Caulimovirus","v":12},{"c":53,"t":"SINE","v":10},{"c":53,"t":"LTR/Copia","v":8},
{"c":54,"t":"LTR/ERV1","v":600},{"c":54,"t":"LINE/RTE-BovB","v":21},{"c":54,"t":"SINE/tRNA","v":28},{"c":54,"t":"LTR/Caulimovirus","v":12},{"c":54,"t":"SINE","v":9},{"c":54,"t":"LTR/Copia","v":10},
{"c":55,"t":"LTR/ERV1","v":600},{"c":55,"t":"LINE/RTE-BovB","v":19},{"c":55,"t":"SINE/tRNA","v":28},{"c":55,"t":"LTR/Caulimovirus","v":12},{"c":55,"t":"SINE","v":9},{"c":55,"t":"LTR/Copia","v":8}
]
},
"spacing":16,
"resolve":{"scale":{"color":"independent","x":"independent","y":"independent","xOffset":"independent"},"legend":{"color":"independent"}},
"vconcat":[
{
"title":{"text":"(A) Solanum tuberosum"},
"width":504,"height":237,
"view":{"stroke":"#d8d8d8"},
"layer":[
{"data":{"name":"teA"},"mark":{"type":"bar","clip":true},
"encoding":{
"x":{"field":"c","type":"ordinal","scale":{"domain":[1,2,3,4,5,6,7,8,9,10,11,12,13,14,15,16,17,18,19,20,21,22,23,24,25,26,27,28,29,30,31,32,33,34,35,36,37,38,39,40],"paddingInner":0.1,"paddingOuter":0.05},"axis":{"title":null,"labelAngle":-90,"labelExpr":"'Condition_' + datum.label","labelPadding":2}},
"xOffset":{"field":"t","type":"nominal","scale":{"domain":["DNA transposons","DNA/CMC-EnSpm","DNA/Harbinger","DNA/hAT-Ac","DNA/hAT-Tag1","DNA/hAT-Tip100","DNA/MULE-MuDR","DNA/PIF-Harbinger","DNA/TcMar-Pogo","DNA/Tc-Mar-Stowaway","LINE/L1","LINE/RTE-BovB","LTR/Caulimovirus","LTR/Copia","LTR/Gypsy","RC/Helitron","Retroposon","Satellite","SINE","SINE/tRNA","Unknown"]}},
"y":{"field":"v","type":"quantitative","scale":{"domain":[0,300]},"axis":{"title":"RPKM","values":[0,50,100,150,200,250,300],"labelOverlap":false,"labelSeparation":0,"titlePadding":6}},
"color":{"field":"t","type":"nominal","scale":{"domain":["DNA transposons","DNA/CMC-EnSpm","DNA/Harbinger","DNA/hAT-Ac","DNA/hAT-Tag1","DNA/hAT-Tip100","DNA/MULE-MuDR","DNA/PIF-Harbinger","DNA/TcMar-Pogo","DNA/Tc-Mar-Stowaway","LINE/L1","LINE/RTE-BovB","LTR/Caulimovirus","LTR/Copia","LTR/Gypsy","RC/Helitron","Retroposon","Satellite","SINE","SINE/tRNA","Unknown","Housekeeping Genes"],"range":["#1f3f7a","#f05a28","#f7d038","#5a9a2a","#7a0f2a","#8ccbf2","#2e3a12","#b4d234","#4a2a80","#ff9b28","#c8102e","#1c7fcc","#f29090","#6b0a5e","#a0a0f0","#4a1808","#f0406e","#a8a4a0","#38e8f0","#28d428","#c4f2f4","#1c7ccc"]},
"legend":{"title":null,"symbolType":"M-1.4,-0.4H1.4V0.4H-1.4Z","symbolSize":100,"symbolStrokeWidth":0,"labelFont":"Liberation Sans","labelFontSize":8,"labelFontWeight":"bold","labelColor":"#333","rowPadding":1.4,"offset":12,"padding":0,"labelOffset":6,"labelLimit":300}}
}},
{"data":{"name":"hkA"},"mark":{"type":"line","color":"#1c7ccc","strokeWidth":2.5,"clip":true},
"encoding":{"x":{"field":"c","type":"ordinal"},"y":{"field":"v","type":"quantitative","axis":{"title":"RPKM","values":[0,50,100,150,200,250,300],"labelOverlap":false,"labelSeparation":0,"titlePadding":6}}}}
]
},
{
"title":{"text":"(B) Solanum lycopersicum"},
"spacing":21,
"resolve":{"scale":{"color":"shared","y":"independent"},"legend":{"color":"shared"}},
"vconcat":[
{
"width":495,"height":112,
"layer":[
{"data":{"name":"teB"},"mark":{"type":"bar","clip":true},
"encoding":{
"x":{"field":"c","type":"ordinal","scale":{"domain":[1,2,3,4,5,6,7,8,9,10,11,12,13,14,15,16,17,18,19,20,21,22,23,24,25,26,27,28,29,30,31,32,33,34,35,36,37,38,39,40,41,42,43,44,45,46,47,48,49,50,51,52,53,54,55],"paddingInner":0.05,"paddingOuter":0.03},"axis":null},
"xOffset":{"field":"t","type":"nominal","scale":{"domain":["DNA transposon","DNA/CMC-EnSpm","DNA/Harbinger","DNA/hAT-Ac","DNA/hAT-Tag1","DNA/hAT-Tip100","DNA/MULE-MuDR","DNA/PIF-Harbinger","DNA/TcMar-Pogo","DNA/TcMar-Stowaway","LINE/L1","LINE/RTE-BovB","LTR/Caulimovirus","LTR/Copia","LTR/ERV1","LTR/Gypsy","RC/Helitron","Retroposon","Satellite","SINE","SINE/tRNA","Unknown"]}},
"y":{"field":"v","type":"quantitative","scale":{"domain":[300,500],"zero":false},"axis":{"title":"RPKM","values":[350,400,450,500],"labelOverlap":false,"labelSeparation":0,"titleAnchor":"start","titlePadding":6}},
"color":{"field":"t","type":"nominal","scale":{"domain":["DNA transposon","DNA/CMC-EnSpm","DNA/Harbinger","DNA/hAT-Ac","DNA/hAT-Tag1","DNA/hAT-Tip100","DNA/MULE-MuDR","DNA/PIF-Harbinger","DNA/TcMar-Pogo","DNA/TcMar-Stowaway","LINE/L1","LINE/RTE-BovB","LTR/Caulimovirus","LTR/Copia","LTR/ERV1","LTR/Gypsy","RC/Helitron","Retroposon","Satellite","SINE","SINE/tRNA","Unknown","Housekeeping genes"],"range":["#1f3f7a","#f05a28","#f7d038","#5a9a2a","#7a0f2a","#8ccbf2","#2e3a12","#b4d234","#4a2a80","#ff9b28","#c8102e","#1c7fcc","#f29090","#6b0a5e","#3cbc5c","#a0a0f0","#4a1808","#f0406e","#e0522a","#ff30e0","#30ee30","#a8a8a8","#1c7ccc"]},
"legend":{"title":null,"symbolType":"M-1.4,-0.4H1.4V0.4H-1.4Z","symbolSize":100,"symbolStrokeWidth":0,"labelFont":"Liberation Sans","labelFontSize":8,"labelFontWeight":"bold","labelColor":"#333","rowPadding":1.4,"offset":9,"padding":0,"labelOffset":6,"labelLimit":300}}
}},
{"data":{"name":"hkB"},"mark":{"type":"line","color":"#1c7ccc","strokeWidth":2.5,"clip":true},
"encoding":{"x":{"field":"c","type":"ordinal"},"y":{"field":"v","type":"quantitative","axis":{"title":"RPKM","values":[350,400,450,500],"labelOverlap":false,"labelSeparation":0,"titleAnchor":"start","titlePadding":6}}}}
]
},
{
"width":495,"height":280,
"layer":[
{"data":{"name":"teB"},"mark":{"type":"bar","clip":true},
"encoding":{
"x":{"field":"c","type":"ordinal","scale":{"domain":[1,2,3,4,5,6,7,8,9,10,11,12,13,14,15,16,17,18,19,20,21,22,23,24,25,26,27,28,29,30,31,32,33,34,35,36,37,38,39,40,41,42,43,44,45,46,47,48,49,50,51,52,53,54,55],"paddingInner":0.05,"paddingOuter":0.03},"axis":{"title":null,"labelAngle":-90,"labelExpr":"'Condition_' + datum.label","values":[1,3,5,7,9,11,13,15,17,19,21,23,25,27,29,31,33,35,37,39,41,43,45,47,49,51,53,55],"labelPadding":2}},
"xOffset":{"field":"t","type":"nominal","scale":{"domain":["DNA transposon","DNA/CMC-EnSpm","DNA/Harbinger","DNA/hAT-Ac","DNA/hAT-Tag1","DNA/hAT-Tip100","DNA/MULE-MuDR","DNA/PIF-Harbinger","DNA/TcMar-Pogo","DNA/TcMar-Stowaway","LINE/L1","LINE/RTE-BovB","LTR/Caulimovirus","LTR/Copia","LTR/ERV1","LTR/Gypsy","RC/Helitron","Retroposon","Satellite","SINE","SINE/tRNA","Unknown"]}},
"y":{"field":"v","type":"quantitative","scale":{"domain":[0,300]},"axis":{"title":null,"values":[0,50,100,150,200,250,300],"labelOverlap":false}},
"color":{"field":"t","type":"nominal"}
}},
{"data":{"name":"hkB"},"mark":{"type":"line","color":"#1c7ccc","strokeWidth":2.5,"clip":true},
"encoding":{"x":{"field":"c","type":"ordinal"},"y":{"field":"v","type":"quantitative","axis":{"title":null,"values":[0,50,100,150,200,250,300],"labelOverlap":false}}}}
]
}
]
}
]
}
